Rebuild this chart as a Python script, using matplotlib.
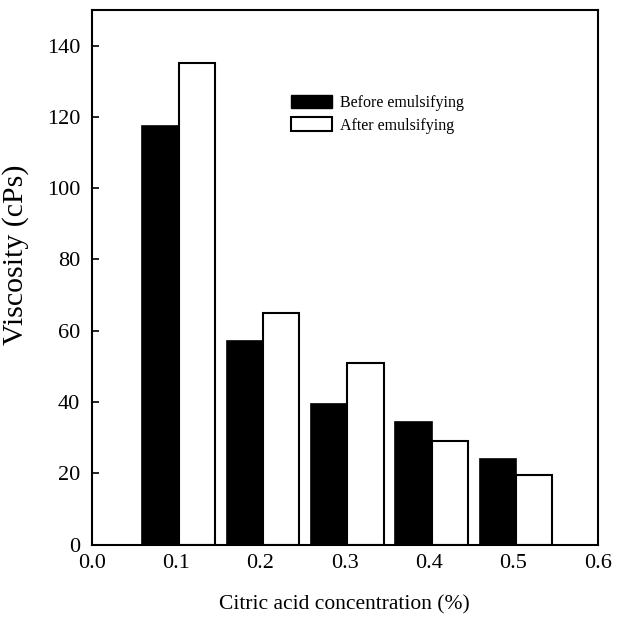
import matplotlib
matplotlib.use("Agg")
import matplotlib.pyplot as plt
from matplotlib.patches import Patch

plt.rcParams["font.family"] = ["Liberation Serif", "DejaVu Serif"]

# data
conc = [0.1, 0.2, 0.3, 0.4, 0.5]
before = [117.5, 57.0, 39.5, 34.5, 24.0]
after = [135.0, 65.0, 51.0, 29.0, 19.5]
yticks = [0, 20, 40, 60, 80, 100, 120, 140]
xticks = [0.0, 0.1, 0.2, 0.3, 0.4, 0.5, 0.6]

W = 0.043   # bar width
OFF = 0.003  # black/white boundary sits just right of the tick

fig = plt.figure(figsize=(6.38, 6.19), dpi=100)
ax = fig.add_axes([0.144, 0.12, 0.793, 0.864])

ax.bar([c + OFF - W for c in conc], before, width=W, align="edge", color="black",
       edgecolor="black", linewidth=1.2)
ax.bar([c + OFF for c in conc], after, width=W, align="edge", color="white",
       edgecolor="black", linewidth=1.5)

ax.set_xlim(0, 0.6)
ax.set_ylim(0, 150)
ax.set_xticks(xticks)
ax.set_xticklabels([f"{t:.1f}" for t in xticks])
ax.set_yticks(yticks)
ax.tick_params(direction="in", length=5, width=1.2, labelsize=16)
ax.tick_params(axis="y", pad=8.5)
ax.tick_params(axis="x", pad=7)
for s in ax.spines.values():
    s.set_linewidth(1.5)

ax.set_xlabel("Citric acid concentration (%)", fontsize=15.5, labelpad=16)
ax.set_ylabel("Viscosity (cPs)", fontsize=21.5)
ax.yaxis.set_label_coords(-0.124, 0.542)

handles = [Patch(facecolor="black", edgecolor="black", label="Before emulsifying"),
           Patch(facecolor="white", edgecolor="black", linewidth=1.5, label="After emulsifying")]
ax.legend(handles=handles, loc="upper left", bbox_to_anchor=(0.365, 0.868), frameon=False,
          fontsize=11.5, handlelength=2.6, handleheight=0.9, handletextpad=0.5,
          labelspacing=0.4)

fig.savefig("out.png", dpi=100)
